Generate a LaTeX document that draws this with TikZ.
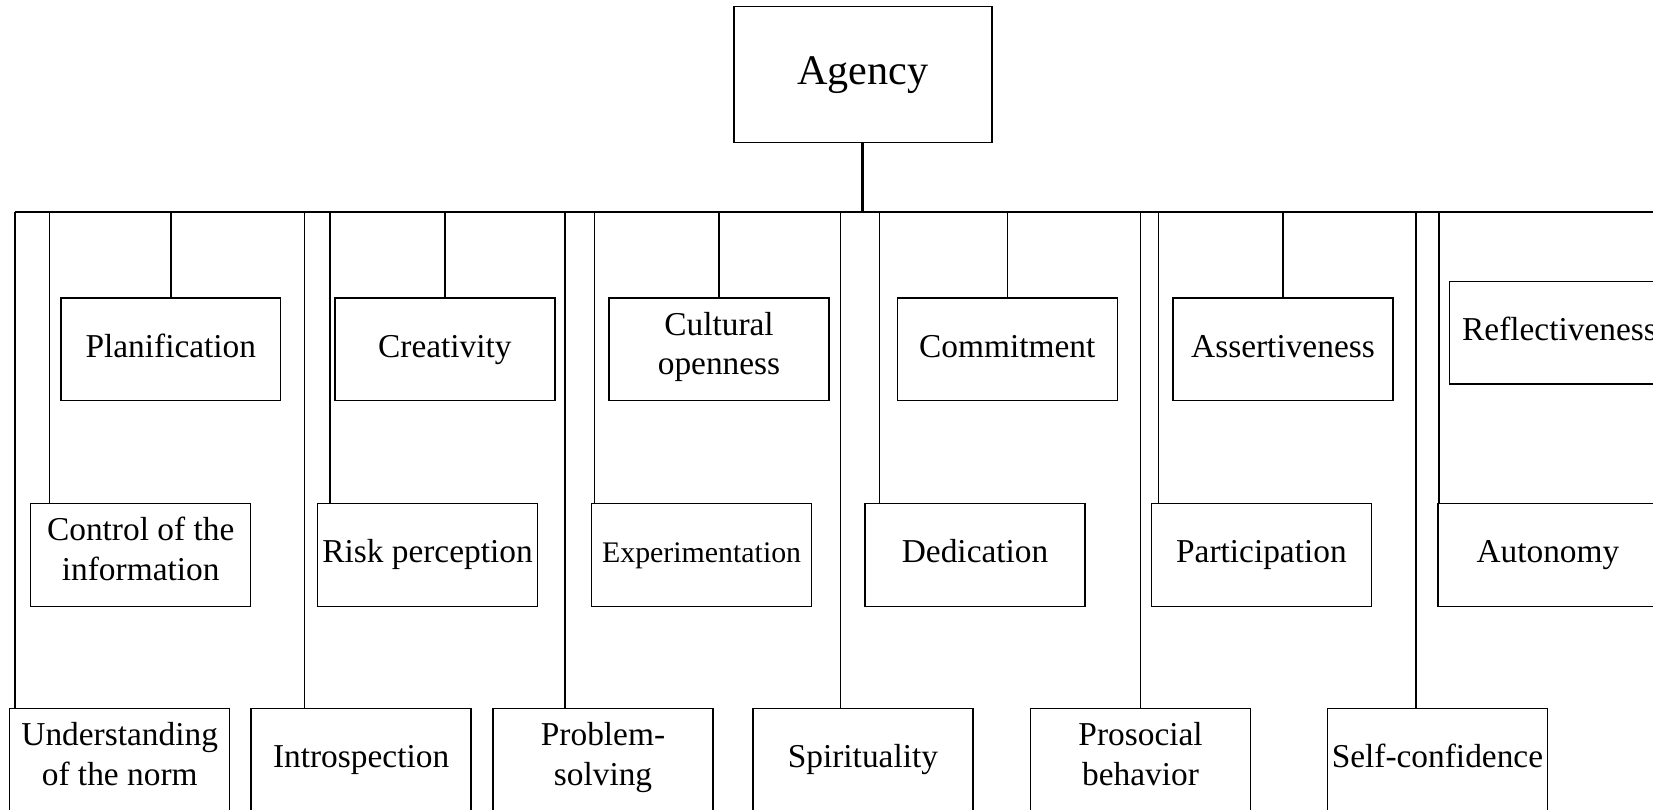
\documentclass[tikz,border=0pt]{standalone}
\usepackage{fontspec}
\setmainfont{Liberation Serif}
\usetikzlibrary{positioning}
\usetikzlibrary{calc}

\begin{document}
\begin{tikzpicture}[x=0.02cm, y=-0.02cm]
    \tikzstyle{box} = [draw=black, rectangle, line width=0.8pt, minimum width=4.4cm, minimum height=2.05cm, align=center, inner sep=1pt, font=\fontsize{19}{22.7}\selectfont, execute at begin node=\strut, execute at end node=\strut]
    \tikzstyle{link} = [draw=black, line width=0.8pt]

    % the page is as large as the chart, the last column runs off it
    \clip (0, 0) rectangle (1653, 810);

    % root box
    \node[box, minimum width=5.16cm, minimum height=2.72cm, font=\fontsize{24}{29}\selectfont] (A) at (862.9, 74.4) {Agency};

    % top row of boxes
    \node[box] (T1) at (170.8, 349.4) {Planification};
    \node[box] (T2) at (444.9, 349.4) {Creativity};
    \node[box] (T3) at (719.0, 349.4) {Cultural\\openness};
    \node[box] (T4) at (1007.3, 349.4) {Commitment};
    \node[box] (T5) at (1283.0, 349.4) {Assertiveness};
    \node[box] (T6) at (1559.5, 332.6) {Reflectiveness};

    % middle row of boxes
    \node[box] (M1) at (140.7, 555.0) {Control of the\\information};
    \node[box] (M2) at (427.5, 555.0) {Risk perception};
    \node[box, font=\fontsize{17}{20.4}\selectfont] (M3) at (701.6, 555.0) {Experimentation};
    \node[box] (M4) at (975.1, 555.0) {Dedication};
    \node[box] (M5) at (1261.4, 555.0) {Participation};
    \node[box] (M6) at (1547.9, 555.0) {Autonomy};

    % bottom row of boxes
    \node[box] (B1) at (119.7, 759.5) {Understanding\\of the norm};
    \node[box] (B2) at (361.1, 759.5) {Introspection};
    \node[box] (B3) at (603.0, 759.5) {Problem-\\solving};
    \node[box] (B4) at (862.9, 759.5) {Spirituality};
    \node[box] (B5) at (1140.6, 759.5) {Prosocial\\behavior};
    \node[box] (B6) at (1437.4, 759.5) {Self-confidence};

    % the bus under the root box
    \coordinate (bus) at (0, 211.9);
    \coordinate (busend) at (1670, 211.9);
    \draw[line width=1.8pt] (A.south) -- (A.south |- bus);

    % drop lines from the bus: outer ones to the bottom row, inner ones to the middle row
    \foreach \i/\xo/\xi in {1/14.8/49.5, 2/304.7/330.0, 3/565.1/594.6, 4/840.2/879.2, 5/1140.6/1158.6, 6/1415.8/1439.0} {
        \coordinate (O\i) at (\xo, 211.9);
        \coordinate (I\i) at (\xi, 211.9);
        \draw[link] (O\i) -- (O\i |- B\i.north);
        \draw[link] (I\i) -- (I\i |- M\i.north);
    }
    \draw[link] (O1) -- (busend);

    % drop lines to the top row
    \foreach \i in {1, 2, ..., 5} {
        \draw[link] (T\i.north) -- (T\i.north |- bus);
    }

\end{tikzpicture}
\end{document}
